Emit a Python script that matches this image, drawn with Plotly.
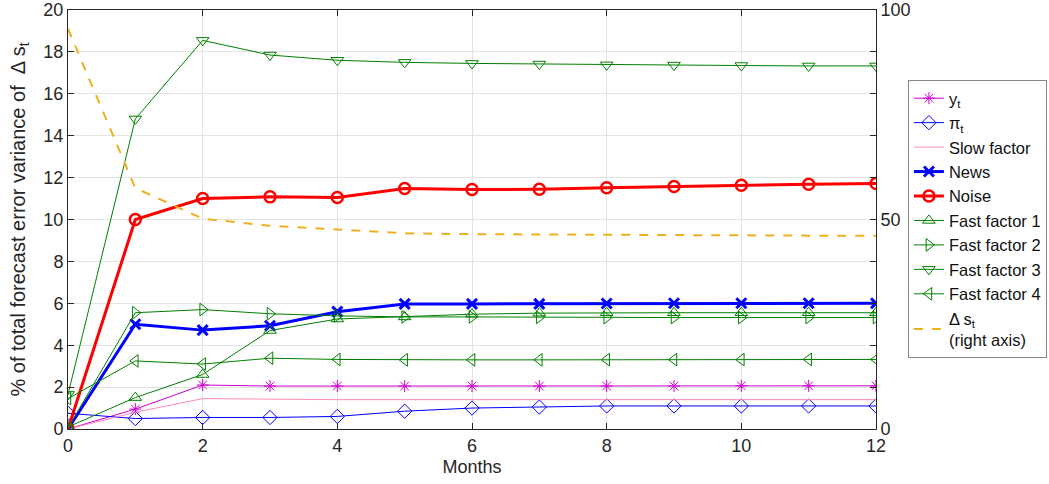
import plotly.graph_objects as go

months = list(range(13))
y_t = [0.0, 0.95, 2.1, 2.05, 2.05, 2.05, 2.05, 2.05, 2.05, 2.05, 2.06, 2.06, 2.06]
pi_t = [0.75, 0.5, 0.55, 0.55, 0.6, 0.85, 1.0, 1.05, 1.1, 1.1, 1.1, 1.1, 1.1]
slow = [0.0, 0.8, 1.45, 1.42, 1.4, 1.4, 1.4, 1.4, 1.4, 1.4, 1.4, 1.4, 1.4]
news = [0.0, 5.0, 4.72, 4.93, 5.6, 5.97, 5.97, 5.97, 5.99, 6.0, 6.0, 6.0, 6.0]
noise = [0.0, 10.0, 11.0, 11.08, 11.05, 11.48, 11.43, 11.44, 11.52, 11.58, 11.63, 11.68, 11.72]
fast1 = [0.1, 1.5, 2.6, 4.7, 5.25, 5.35, 5.48, 5.53, 5.55, 5.55, 5.55, 5.55, 5.55]
fast2 = [0.05, 5.55, 5.7, 5.5, 5.4, 5.35, 5.35, 5.33, 5.32, 5.32, 5.32, 5.32, 5.32]
fast3 = [1.65, 14.8, 18.55, 17.85, 17.6, 17.5, 17.45, 17.42, 17.38, 17.37, 17.35, 17.33, 17.33]
fast4 = [1.45, 3.25, 3.1, 3.38, 3.32, 3.3, 3.3, 3.3, 3.31, 3.31, 3.31, 3.32, 3.32]
ds = [95.5, 57.5, 50.2, 48.5, 47.6, 46.7, 46.5, 46.4, 46.3, 46.25, 46.2, 46.15, 46.1]

green = "#008000"
fig = go.Figure()

def add(y, name, color, width, symbol, msize=9, mline=1):
    kw = dict(x=months, y=y, name=name, line=dict(color=color, width=width))
    if symbol:
        kw["mode"] = "lines+markers"
        kw["marker"] = dict(symbol=symbol, size=msize, color=color,
                            line=dict(color=color, width=mline))
    else:
        kw["mode"] = "lines"
    fig.add_trace(go.Scatter(**kw))

add(y_t, "y<sub>t</sub>", "#cc00cc", 1, "asterisk-open", 10, 1)
add(pi_t, "π<sub>t</sub>", "#0000ff", 1, "diamond-open", 11, 1)
add(slow, "Slow factor", "#ff88bb", 1, None)
add(news, "News", "#0000ff", 3, "x-thin-open", 10, 3)
add(noise, "Noise", "#ff0000", 3, "circle-open", 11, 2.5)
add(fast1, "Fast factor 1", green, 1, "triangle-up-open", 11, 1)
add(fast2, "Fast factor 2", green, 1, "triangle-right-open", 11, 1)
add(fast3, "Fast factor 3", green, 1, "triangle-down-open", 11, 1)
add(fast4, "Fast factor 4", green, 1, "triangle-left-open", 11, 1)

fig.add_trace(go.Scatter(x=months, y=ds, name="Δ s<sub>t</sub><br>(right axis)",
                         mode="lines", yaxis="y2",
                         line=dict(color="#EDB120", width=2, dash="dash")))

axfont = dict(family="Liberation Sans, Arial, sans-serif", size=18, color="#262626")
fig.update_layout(
    width=1049, height=484,
    margin=dict(l=68, r=173, t=10, b=55, autoexpand=False),
    paper_bgcolor="white", plot_bgcolor="white",
    font=axfont,
    xaxis=dict(range=[0, 12], tickvals=list(range(0, 13, 2)), ticks="inside",
               ticklen=6, tickcolor="#262626", showgrid=True, gridcolor="#e3e3e3",
               showline=True, linecolor="#262626", linewidth=1, mirror="ticks",
               zeroline=False, automargin=False,
               title=dict(text="Months", standoff=5, font=dict(size=18))),
    yaxis=dict(range=[0, 20], tickvals=list(range(0, 21, 2)), ticks="inside",
               ticklen=6, tickcolor="#262626", showgrid=True, gridcolor="#e3e3e3",
               showline=True, linecolor="#262626", linewidth=1, mirror=True,
               zeroline=False, automargin=False,
               title=dict(text="% of total forecast error variance of  Δ s<sub>t</sub>",
                          standoff=12, font=dict(size=20))),
    yaxis2=dict(range=[0, 100], overlaying="y", side="right",
                tickvals=list(range(0, 101, 10)),
                ticktext=["0", "", "", "", "", "50", "", "", "", "", "100"],
                ticks="inside", ticklen=6, tickcolor="#262626", showgrid=False,
                showline=True, linecolor="#262626", zeroline=False, automargin=False),
    legend=dict(x=1.0395, y=0.833, xanchor="left", yanchor="top",
                bordercolor="#888888", borderwidth=1, bgcolor="white",
                font=dict(size=16.5, color="#111111"), tracegroupgap=0,
                itemwidth=30),
    showlegend=True,
)

fig.write_html("out.html", config={"displayModeBar": False},
               post_script="document.body.style.margin='0px';")
